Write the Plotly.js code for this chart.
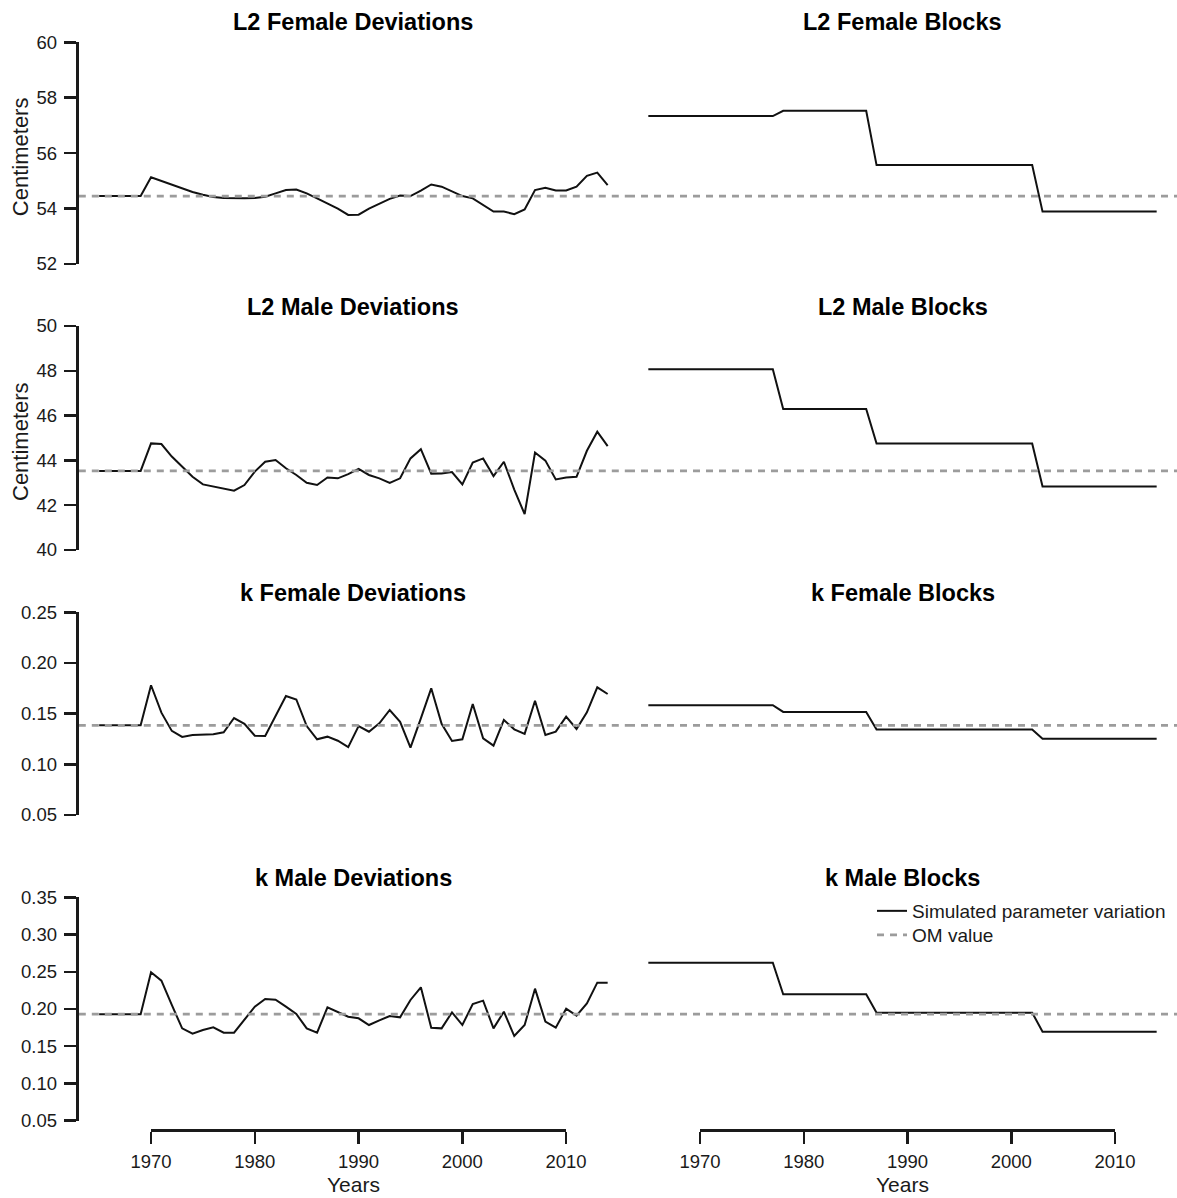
<!DOCTYPE html>
<html>
<head>
<meta charset="utf-8">
<script src="https://cdn.plot.ly/plotly-3.0.1.min.js"></script>
<style>html,body{margin:0;padding:0;background:#fff;}#chart{width:1177px;height:1198px;}</style>
</head>
<body>
<div id="chart"></div>
<script>
// ---------------- DATA ----------------
const years = [1965,1966,1967,1968,1969,1970,1971,1972,1973,1974,1975,1976,1977,1978,1979,
  1980,1981,1982,1983,1984,1985,1986,1987,1988,1989,1990,1991,1992,1993,1994,1995,1996,1997,1998,1999,
  2000,2001,2002,2003,2004,2005,2006,2007,2008,2009,2010,2011,2012,2013,2014];

const L2FemaleDev = [54.45,54.45,54.45,54.45,54.45,
  55.13,55.00,54.85,54.72,54.60,54.50,54.42,54.38,54.37,54.37,
  54.38,54.43,54.55,54.67,54.69,54.55,54.37,54.19,54.00,53.77,
  53.78,54.00,54.19,54.35,54.47,54.45,54.65,54.87,54.79,54.61,
  54.45,54.37,54.13,53.89,53.89,53.80,53.97,54.67,54.75,54.65,
  54.65,54.79,55.18,55.30,54.85];

const L2MaleDev = [43.53,43.53,43.53,43.53,43.53,
  44.76,44.73,44.17,43.72,43.27,42.93,42.83,42.74,42.65,42.90,
  43.50,43.94,44.02,43.65,43.35,43.00,42.90,43.24,43.20,43.39,
  43.62,43.35,43.20,43.00,43.20,44.09,44.50,43.41,43.42,43.48,
  42.93,43.90,44.09,43.30,43.94,42.70,41.60,44.35,43.99,43.15,
  43.24,43.27,44.43,45.28,44.64];

const kFemaleDev = [0.1385,0.1385,0.1385,0.1385,0.1385,
  0.178,0.151,0.133,0.127,0.129,0.129,0.1296,0.1316,0.1457,0.140,
  0.1283,0.128,0.148,0.1674,0.164,0.1378,0.1247,0.1273,0.1233,0.117,
  0.1378,0.1322,0.1404,0.1536,0.142,0.1164,0.1454,0.175,0.140,0.123,
  0.1247,0.1595,0.1257,0.1184,0.1438,0.1345,0.130,0.1628,0.129,0.1322,
  0.147,0.1349,0.1513,0.176,0.1694];

const kMaleDev = [0.193,0.193,0.193,0.193,0.193,
  0.2493,0.238,0.2054,0.174,0.1668,0.1718,0.1754,0.1682,0.1682,0.1852,
  0.2031,0.2134,0.2125,0.2031,0.1933,0.174,0.1682,0.2022,0.1964,0.1897,
  0.1875,0.1785,0.1848,0.1906,0.1888,0.2121,0.2291,0.1749,0.174,0.1955,
  0.1785,0.2067,0.2112,0.174,0.1964,0.1637,0.1785,0.2273,0.183,0.1749,
  0.2004,0.191,0.2076,0.2354,0.2354];

// time blocks
const blockStart = [1965, 1978, 1987, 2003];
const blockEnd   = [1977, 1986, 2002, 2014];
const L2FemaleBlocks = [57.34, 57.53, 55.57, 53.89];
const L2MaleBlocks   = [48.07, 46.30, 44.75, 42.84];
const kFemaleBlocks  = [0.1584, 0.1517, 0.1344, 0.1253];
const kMaleBlocks    = [0.2622, 0.2197, 0.1951, 0.1696];

// operating-model values
const omValues = [54.45, 43.53, 0.1385, 0.193];

const devTitles   = ['L2 Female Deviations','L2 Male Deviations','k Female Deviations','k Male Deviations'];
const blockTitles = ['L2 Female Blocks','L2 Male Blocks','k Female Blocks','k Male Blocks'];
const devSeries   = [L2FemaleDev, L2MaleDev, kFemaleDev, kMaleDev];
const blockSeries = [L2FemaleBlocks, L2MaleBlocks, kFemaleBlocks, kMaleBlocks];

const yTickVals = [
  [52,54,56,58,60],
  [40,42,44,46,48,50],
  [0.05,0.10,0.15,0.20,0.25],
  [0.05,0.10,0.15,0.20,0.25,0.30,0.35]
];
const yTickFormat = ['d','d','.2f','.2f'];
const xTickVals = [1970,1980,1990,2000,2010];
const legendNames = ['Simulated parameter variation','OM value'];

// ---------------- LAYOUT GEOMETRY (pixels) ----------------
const W = 1177, H = 1198;
const xRange = [1963.04, 2015.96];
const leftPx = [78.8, 628], rightPx = [628, 1177];
const rowPx = [[42.3, 264], [326, 550], [612.3, 815], [897.3, 1120.7]]; // top, bottom of y-axis
const titleY = [22, 307, 593, 878];
const xAxisLinePx = 1129.3;
const FONT = '"Liberation Sans", Arial, sans-serif';
const INK = '#1a1a1a';

function px2fx(p){ return p / W; }
function px2fy(p){ return 1 - p / H; }

const data = [];
const legendBox = {
  xanchor: 'left', yanchor: 'middle',
  bgcolor: 'rgba(0,0,0,0)', borderwidth: 0,
  font: {family: FONT, size: 19, color: INK}
};
const layout = {
  width: W, height: H,
  margin: {l:0, r:0, t:0, b:0},
  paper_bgcolor: '#fff', plot_bgcolor: 'rgba(0,0,0,0)',
  font: {family: FONT, color: INK, size: 18},
  showlegend: true,
  legend:  Object.assign({x: px2fx(872), y: px2fy(911)}, legendBox),
  legend2: Object.assign({x: px2fx(872), y: px2fy(935)}, legendBox),
  annotations: []
};

function axisId(n){ return n === 1 ? '' : String(n); }

for (let r = 0; r < 4; r++) {
  const lo = yTickVals[r][0], hi = yTickVals[r][yTickVals[r].length - 1];
  const eps = (hi - lo) * 1e-6;
  const ydom = [px2fy(rowPx[r][1]), px2fy(rowPx[r][0])];
  for (let c = 0; c < 2; c++) {
    const n = r * 2 + c + 1;
    const id = axisId(n);
    layout['xaxis' + id] = {
      domain: c === 0 ? [px2fx(leftPx[0]), px2fx(leftPx[1])] : [px2fx(rightPx[0]), px2fx(rightPx[1])],
      range: xRange, anchor: 'y' + id, visible: false, showgrid: false, zeroline: false, fixedrange: true
    };
    layout['yaxis' + id] = {
      domain: ydom, range: [lo - eps, hi + eps], anchor: 'x' + id,
      visible: c === 0, showgrid: false, zeroline: false,
      showline: true, linecolor: INK, linewidth: 2.5,
      ticks: 'outside', ticklen: 12.5, tickwidth: 2.5, tickcolor: INK,
      tickmode: 'array', tickvals: yTickVals[r], tickformat: yTickFormat[r],
      ticklabelstandoff: 3,
      tickfont: {family: FONT, size: 18.5, color: INK}, fixedrange: true
    };
    const isLegend = (r === 3 && c === 1);
    let xs, ys;
    if (c === 0) {
      xs = years; ys = devSeries[r];
    } else {
      xs = []; ys = [];
      for (let b = 0; b < blockStart.length; b++) {
        xs.push(blockStart[b], blockEnd[b]);
        ys.push(blockSeries[r][b], blockSeries[r][b]);
      }
    }
    data.push({
      type: 'scatter', mode: 'lines', x: xs, y: ys,
      xaxis: 'x' + id, yaxis: 'y' + id,
      line: {color: '#111', width: 2},
      name: legendNames[0], showlegend: isLegend, legend: 'legend', hoverinfo: 'x+y'
    });
    data.push({
      type: 'scatter', mode: 'lines', x: xRange, y: [omValues[r], omValues[r]],
      xaxis: 'x' + id, yaxis: 'y' + id,
      line: {color: '#9c9c9c', width: 2.7, dash: '7px,6px'},
      name: legendNames[1], showlegend: isLegend, legend: 'legend2', hoverinfo: 'y'
    });
    layout.annotations.push({
      text: c === 0 ? devTitles[r] : blockTitles[r],
      xref: 'paper', yref: 'paper',
      x: c === 0 ? px2fx((leftPx[0] + leftPx[1]) / 2) : px2fx((rightPx[0] + rightPx[1]) / 2),
      y: px2fy(titleY[r]), xanchor: 'center', yanchor: 'middle', showarrow: false,
      font: {family: FONT, size: 23.5, color: '#000', weight: 700}
    });
  }
}

// Centimeters axis titles (rows 1 and 2)
for (let r = 0; r < 2; r++) {
  layout.annotations.push({
    text: 'Centimeters', xref: 'paper', yref: 'paper',
    x: px2fx(20), y: px2fy((rowPx[r][0] + rowPx[r][1]) / 2 + 4),
    xanchor: 'center', yanchor: 'middle', textangle: -90, showarrow: false,
    font: {family: FONT, size: 22, color: INK}
  });
}

// bottom year axes (drawn only between 1970 and 2010 like base R)
const yearAxisDomains = [
  [151, 566],
  [700, 1115]
];
for (let c = 0; c < 2; c++) {
  const n = 9 + c, id = String(n);
  layout['xaxis' + id] = {
    domain: [px2fx(yearAxisDomains[c][0]), px2fx(yearAxisDomains[c][1])],
    range: [xTickVals[0], xTickVals[xTickVals.length - 1]], anchor: 'y' + id,
    showgrid: false, zeroline: false, showline: true, linecolor: INK, linewidth: 2.5,
    ticks: 'outside', ticklen: 12.5, tickwidth: 2.5, tickcolor: INK,
    tickmode: 'array', tickvals: xTickVals, ticklabelstandoff: 1,
    tickfont: {family: FONT, size: 18.5, color: INK}, fixedrange: true
  };
  layout['yaxis' + id] = {
    domain: [px2fy(xAxisLinePx), px2fy(xAxisLinePx - 5)], anchor: 'x' + id,
    visible: false, range: [0, 1], fixedrange: true
  };
  // empty carrier trace so that the year axis subplot is created
  data.push({
    type: 'scatter', mode: 'lines', x: xTickVals, y: xTickVals.map(() => null),
    xaxis: 'x' + id, yaxis: 'y' + id, showlegend: false, hoverinfo: 'skip'
  });
  layout.annotations.push({
    text: 'Years', xref: 'paper', yref: 'paper',
    x: c === 0 ? px2fx((leftPx[0] + leftPx[1]) / 2) : px2fx((rightPx[0] + rightPx[1]) / 2),
    y: 0, xanchor: 'center', yanchor: 'bottom', showarrow: false,
    font: {family: FONT, size: 21, color: INK}
  });
}

Plotly.newPlot('chart', data, layout, {staticPlot: true, displayModeBar: false});
</script>
</body>
</html>
